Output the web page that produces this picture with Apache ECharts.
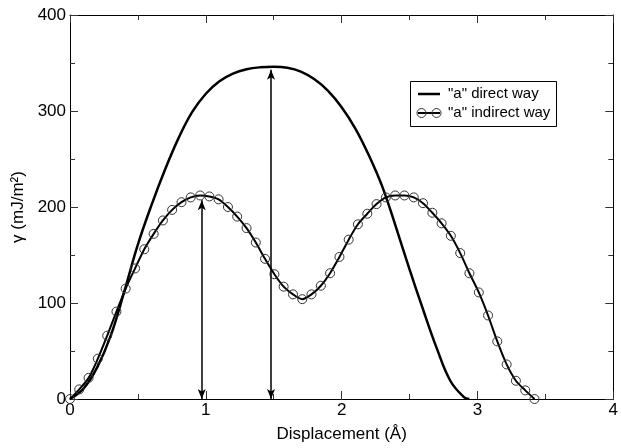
<!DOCTYPE html>
<html>
<head>
<meta charset="utf-8">
<script src="https://cdn.jsdelivr.net/npm/echarts@6/dist/echarts.min.js"></script>
<style>
html,body{margin:0;padding:0;background:#fff;}
#chart{width:621px;height:448px;}
</style>
</head>
<body>
<div id="chart"></div>
<script>
// ---- data ----
const directX = [0, 0.1, 0.2, 0.3, 0.4, 0.5, 0.6, 0.7, 0.8, 0.9, 1.0, 1.1, 1.2, 1.3, 1.4, 1.5,
  1.6, 1.7, 1.8, 1.9, 2.0, 2.1, 2.2, 2.3, 2.4, 2.5, 2.6, 2.7, 2.8, 2.9, 2.94];
const directY = [0, 11, 33, 66, 112, 161, 202, 239, 272, 299, 318, 331, 339, 343.5, 345.5, 346,
  345, 341, 333, 321, 304, 282, 254, 221, 179, 135, 93, 53, 19, 2, 0];

const indirectX = [0, 0.068, 0.137, 0.205, 0.274, 0.342, 0.410, 0.479, 0.547, 0.616, 0.684,
  0.752, 0.821, 0.889, 0.958, 1.026, 1.094, 1.163, 1.231, 1.300, 1.368, 1.436, 1.505, 1.573,
  1.642, 1.710, 1.778, 1.847, 1.915, 1.984, 2.052, 2.120, 2.189, 2.257, 2.326, 2.394, 2.462,
  2.531, 2.599, 2.668, 2.736, 2.804, 2.873, 2.941, 3.010, 3.078, 3.146, 3.215, 3.283, 3.352, 3.420];
const indirectY = [0, 10, 22, 42, 66, 91, 115, 136, 156, 172, 186, 197, 205, 210, 212, 211,
  208, 200, 190, 178, 163, 146, 130, 117, 109, 104, 109, 118, 131, 148, 166, 182, 193, 203,
  210, 212, 212, 210, 204, 194, 183, 170, 152, 131, 111, 87, 60, 36, 19, 9, 0];

// vertical double arrows
const arrowX = [0.97, 1.48];
const arrowTop = [207, 343];

const xTicks = [0, 1, 2, 3, 4];
const yTicks = [0, 100, 200, 300, 400];
const seriesNames = ['"a" direct way', '"a" indirect way'];

// ---- chart ----
const FONT = '"Liberation Sans", Arial, Helvetica, sans-serif';
const chart = echarts.init(document.getElementById('chart'), null, {renderer: 'canvas'});

const pair = (xs, ys) => xs.map((x, i) => [x, ys[i]]);

function axisBase(extra) {
  return Object.assign({
    type: 'value',
    splitLine: {show: false},
    axisLine: {show: true, onZero: false, lineStyle: {color: '#000', width: 1}},
    axisTick: {show: true, inside: true, length: 8, lineStyle: {color: '#333', width: 1}},
    minorTick: {show: true, splitNumber: 2, length: 5, lineStyle: {color: '#333', width: 1}},
    minorSplitLine: {show: false}
  }, extra);
}

const option = {
  backgroundColor: '#fff',
  animation: false,
  grid: {left: 70, right: 7, top: 15, bottom: 48, containLabel: false},
  xAxis: [
    axisBase({
      position: 'bottom', min: xTicks[0], max: xTicks[xTicks.length - 1], interval: 1,
      axisLabel: {show: true, fontSize: 17, color: '#000', fontFamily: FONT, margin: 3},
      name: 'Displacement (Å)', nameLocation: 'middle', nameGap: 27,
      nameTextStyle: {fontSize: 17, color: '#000', fontFamily: FONT}
    }),
    axisBase({
      position: 'top', min: xTicks[0], max: xTicks[xTicks.length - 1], interval: 1,
      axisLabel: {show: false}
    })
  ],
  yAxis: [
    axisBase({
      position: 'left', min: yTicks[0], max: yTicks[yTicks.length - 1], interval: 100,
      axisLabel: {show: true, fontSize: 17, color: '#000', fontFamily: FONT, margin: 4},
      name: 'γ (mJ/m²)', nameLocation: 'middle', nameGap: 22,
      nameTextStyle: {fontSize: 17, color: '#000', fontFamily: FONT}
    }),
    axisBase({
      position: 'right', min: yTicks[0], max: yTicks[yTicks.length - 1], interval: 100,
      axisLabel: {show: false}
    })
  ],
  series: [
    {
      name: seriesNames[0],
      type: 'line',
      xAxisIndex: 0, yAxisIndex: 0,
      data: pair(directX, directY),
      smooth: 0.4,
      showSymbol: false,
      symbol: 'none',
      lineStyle: {color: '#000', width: 2.5},
      itemStyle: {color: '#000'},
      z: 3,
      markLine: {
        silent: true,
        symbol: ['arrow', 'arrow'],
        symbolSize: [6, 10],
        label: {show: false},
        lineStyle: {color: '#000', width: 1.5, type: 'solid'},
        data: arrowX.map((x, i) => [{coord: [x, 0]}, {coord: [x, arrowTop[i]]}])
      }
    },
    {
      name: seriesNames[1],
      type: 'line',
      xAxisIndex: 0, yAxisIndex: 0,
      data: pair(indirectX, indirectY),
      smooth: 0.3,
      symbol: 'circle',
      symbolSize: 9,
      showSymbol: true,
      lineStyle: {color: '#000', width: 2},
      itemStyle: {color: 'rgba(0,0,0,0)', borderColor: '#333', borderWidth: 1},
      z: 4
    }
  ],
  graphic: [
    {type: 'rect', z: 100, shape: {x: 410.5, y: 81.5, width: 146, height: 45},
      style: {fill: '#fff', stroke: '#000', lineWidth: 1}},
    {type: 'line', z: 101, shape: {x1: 418, y1: 94, x2: 440, y2: 94},
      style: {stroke: '#000', lineWidth: 2.5}},
    {type: 'text', z: 101, x: 448, y: 94,
      style: {text: seriesNames[0], fill: '#000', font: '15px ' + FONT, verticalAlign: 'middle', align: 'left'}},
    {type: 'line', z: 101, shape: {x1: 418, y1: 113, x2: 440, y2: 113},
      style: {stroke: '#000', lineWidth: 2}},
    {type: 'circle', z: 102, shape: {cx: 421.5, cy: 113, r: 4.5},
      style: {fill: 'none', stroke: '#333', lineWidth: 1}},
    {type: 'circle', z: 102, shape: {cx: 436.5, cy: 113, r: 4.5},
      style: {fill: 'none', stroke: '#333', lineWidth: 1}},
    {type: 'text', z: 101, x: 448, y: 113,
      style: {text: seriesNames[1], fill: '#000', font: '15px ' + FONT, verticalAlign: 'middle', align: 'left'}}
  ]
};

chart.setOption(option);
</script>
</body>
</html>
